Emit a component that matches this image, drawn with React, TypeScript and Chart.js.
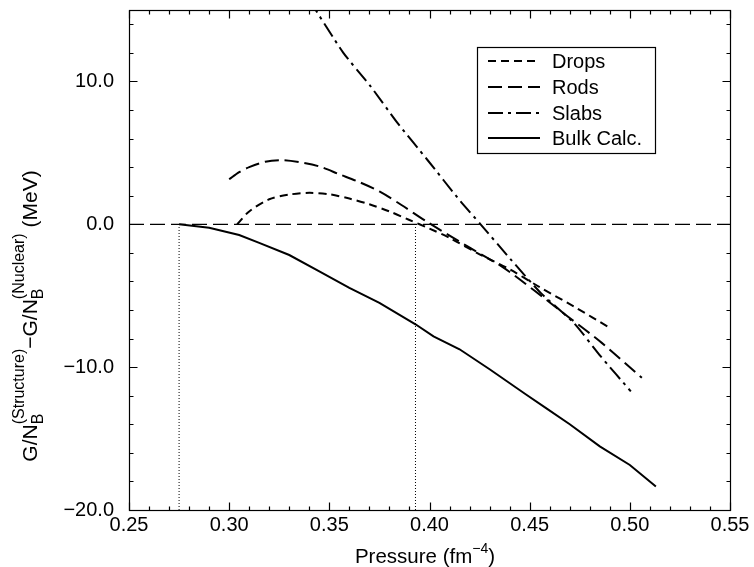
import React, { useEffect, useRef } from "react";
import { Chart, registerables } from "chart.js";

Chart.register(...registerables);

// ---- data ----
const dropsP = [0.304, 0.310, 0.320, 0.330, 0.340, 0.350, 0.360, 0.370, 0.380, 0.390, 0.400, 0.410, 0.425, 0.440, 0.455, 0.472, 0.490];
const dropsG = [0.0, 0.9, 1.75, 2.08, 2.2, 2.1, 1.8, 1.4, 0.9, 0.3, -0.3, -0.95, -2.1, -3.15, -4.4, -5.75, -7.25];

const rodsP = [0.300, 0.305, 0.310, 0.318, 0.326, 0.335, 0.345, 0.355, 0.365, 0.375, 0.386, 0.399, 0.419, 0.436, 0.452, 0.469, 0.486, 0.506];
const rodsG = [3.15, 3.65, 4.0, 4.38, 4.49, 4.35, 4.05, 3.5, 2.95, 2.3, 1.35, 0.15, -1.55, -2.95, -4.6, -6.45, -8.3, -10.75];

const slabsP = [0.340, 0.357, 0.3705, 0.384, 0.399, 0.4155, 0.4255, 0.4405, 0.4555, 0.472, 0.4855, 0.5005];
const slabsG = [15.7, 12.0, 9.67, 7.1, 4.5, 1.6, 0.0, -2.45, -4.8, -6.9, -9.25, -11.7];

const bulkP = [0.275, 0.290, 0.305, 0.315, 0.330, 0.345, 0.360, 0.375, 0.393, 0.402, 0.415, 0.430, 0.448, 0.458, 0.470, 0.485, 0.500, 0.513];
const bulkG = [0.0, -0.25, -0.75, -1.3, -2.15, -3.3, -4.45, -5.5, -7.0, -7.85, -8.75, -10.15, -11.9, -12.85, -14.0, -15.55, -16.85, -18.35];

const thresholdP = [0.275, 0.393];

const xTickValues = [0.25, 0.30, 0.35, 0.40, 0.45, 0.50, 0.55];
const yTickValues = [-20, -10, 0, 10];
const legendLabels = ["Drops", "Rods", "Slabs", "Bulk Calc."];

const X_MIN = 0.25, X_MAX = 0.55, Y_MIN = -20, Y_MAX = 15;

const FONT = "'Liberation Sans', Arial, Helvetica, sans-serif";

const zip = (xs: number[], ys: number[]) => xs.map((x, i) => ({ x, y: ys[i] }));
const fmt = (v: number, d: number) => (v < 0 ? "\u2212" : "") + Math.abs(v).toFixed(d);

const DASH_DROPS = [8, 5];
const DASH_RODS = [14, 6];
const DASH_SLABS = [15, 5, 3, 5];

function drawFrame(chart: any) {
  const { ctx, chartArea } = chart;
  const { left, right, top, bottom } = chartArea;
  const xs = chart.scales.x;
  const ys = chart.scales.y;
  const L = left + 0.5, R = right + 0.5, T = top + 0.5, B = bottom + 0.5;
  ctx.save();
  ctx.strokeStyle = "#000";
  ctx.lineWidth = 1.2;
  ctx.setLineDash([]);
  ctx.strokeRect(L, T, R - L, B - T);
  ctx.beginPath();
  for (let i = 25; i <= 55; i++) {
    const v = i / 100;
    const px = Math.round(xs.getPixelForValue(v)) + 0.5;
    const len = i % 5 === 0 ? 8 : 4;
    ctx.moveTo(px, B);
    ctx.lineTo(px, B - len);
    ctx.moveTo(px, T);
    ctx.lineTo(px, T + len);
  }
  for (let v = -20; v <= 14; v += 2) {
    const py = Math.round(ys.getPixelForValue(v)) + 0.5;
    const len = v % 10 === 0 ? 8 : 4;
    ctx.moveTo(L, py);
    ctx.lineTo(L + len, py);
    ctx.moveTo(R, py);
    ctx.lineTo(R - len, py);
  }
  ctx.stroke();
  ctx.restore();
}

function drawLegend(chart: any) {
  const { ctx } = chart;
  const dashes = [DASH_DROPS, DASH_RODS, DASH_SLABS, []];
  const bx = 477, by = 47, bw = 178, bh = 106;
  ctx.save();
  ctx.fillStyle = "#fff";
  ctx.fillRect(bx, by, bw, bh);
  ctx.strokeStyle = "#000";
  ctx.lineWidth = 1.2;
  ctx.setLineDash([]);
  ctx.strokeRect(bx + 0.5, by + 0.5, bw, bh);
  const rows = [61, 87, 113, 138];
  legendLabels.forEach((lab, i) => {
    ctx.beginPath();
    ctx.setLineDash(dashes[i]);
    ctx.lineWidth = 2;
    ctx.moveTo(488, rows[i]);
    ctx.lineTo(540, rows[i]);
    ctx.stroke();
    ctx.setLineDash([]);
    ctx.fillStyle = "#000";
    ctx.font = `20px ${FONT}`;
    ctx.textAlign = "left";
    ctx.textBaseline = "middle";
    ctx.fillText(lab, 552, rows[i] + 1);
  });
  ctx.restore();
}

function drawTitles(chart: any) {
  const { ctx } = chart;
  ctx.save();
  ctx.fillStyle = "#000";
  ctx.textBaseline = "alphabetic";
  ctx.textAlign = "left";

  // ---- y title (rotated) ----
  const MAIN = 21, SCR = 16;
  type Seg = { t: string; f: number; dy: number; stackWith?: boolean };
  const segs: Seg[] = [
    { t: "G/N", f: MAIN, dy: 0 },
    { t: "B", f: SCR, dy: 6 },
    { t: "(Structure)", f: SCR, dy: -13, stackWith: true },
    { t: "\u2212G/N", f: MAIN, dy: 0 },
    { t: "B", f: SCR, dy: 6 },
    { t: "(Nuclear)", f: SCR, dy: -13, stackWith: true },
    { t: " (MeV)", f: MAIN, dy: 0 },
  ];
  const pos: { x: number; w: number }[] = [];
  let cur = 0;
  let lastStart = 0;
  let lastW = 0;
  segs.forEach((s) => {
    ctx.font = `${s.f}px ${FONT}`;
    const w = ctx.measureText(s.t).width;
    if (s.stackWith) {
      pos.push({ x: lastStart, w });
      cur = lastStart + Math.max(lastW, w);
    } else {
      pos.push({ x: cur, w });
      lastStart = cur;
      lastW = w;
      cur += w;
    }
  });
  const total = cur;
  const centerY = 316;
  const baseX = 37;
  ctx.translate(baseX, centerY + total / 2);
  ctx.rotate(-Math.PI / 2);
  segs.forEach((s, i) => {
    ctx.font = `${s.f}px ${FONT}`;
    ctx.fillText(s.t, pos[i].x, s.dy);
  });
  ctx.setTransform(1, 0, 0, 1, 0, 0);

  // ---- x title ----
  const xMainF = 20.5, xSupF = 14;
  const a = "Pressure (fm", b = "\u22124", c = ")";
  ctx.font = `${xMainF}px ${FONT}`;
  const wa = ctx.measureText(a).width;
  const wc = ctx.measureText(c).width;
  ctx.font = `${xSupF}px ${FONT}`;
  const wb = ctx.measureText(b).width;
  const xt = wa + wb + wc;
  const sx = 425 - xt / 2;
  const baseY = 563;
  ctx.font = `${xMainF}px ${FONT}`;
  ctx.fillText(a, sx, baseY);
  ctx.font = `${xSupF}px ${FONT}`;
  ctx.fillText(b, sx + wa, baseY - 10);
  ctx.font = `${xMainF}px ${FONT}`;
  ctx.fillText(c, sx + wa + wb, baseY);
  ctx.restore();
}

const decorPlugin = {
  id: "decor",
  afterDraw(chart: any) {
    drawFrame(chart);
    drawLegend(chart);
    drawTitles(chart);
  },
};

export default function App() {
  const ref = useRef<HTMLCanvasElement | null>(null);

  useEffect(() => {
    if (!ref.current) return;
    const line = (data: any[], dash: number[], width: number, extra: any = {}) => ({
      data,
      borderColor: "#000",
      backgroundColor: "#000",
      borderWidth: width,
      borderDash: dash,
      pointRadius: 0,
      fill: false,
      clip: 0,
      ...extra,
    });
    const chart = new Chart(ref.current, {
      type: "line",
      data: {
        datasets: [
          line([{ x: X_MIN, y: 0 }, { x: X_MAX, y: 0 }], [15, 6], 1.2, { label: "zero" }),
          ...thresholdP.map((p) => line([{ x: p, y: Y_MIN }, { x: p, y: 0 }], [1, 2], 1, { label: "t" + p })),
          line(zip(dropsP, dropsG), DASH_DROPS, 2, { label: legendLabels[0], tension: 0.3 }),
          line(zip(rodsP, rodsG), DASH_RODS, 2, { label: legendLabels[1], tension: 0.3 }),
          line(zip(slabsP, slabsG), DASH_SLABS, 2, { label: legendLabels[2], tension: 0.2 }),
          line(zip(bulkP, bulkG), [], 2, { label: legendLabels[3], tension: 0 }),
        ],
      },
      options: {
        responsive: false,
        animation: false,
        devicePixelRatio: 1,
        parsing: false as any,
        layout: { padding: { top: 10, right: 24, left: 0, bottom: 0 } },
        plugins: { legend: { display: false }, tooltip: { enabled: false }, title: { display: false } },
        scales: {
          x: {
            type: "linear",
            min: X_MIN,
            max: X_MAX,
            position: "bottom",
            afterBuildTicks: (s: any) => {
              s.ticks = xTickValues.map((v) => ({ value: v }));
            },
            afterFit: (s: any) => {
              s.height = 57;
              s.paddingLeft = 0;
              s.paddingRight = 0;
              s.paddingTop = 0;
              s.paddingBottom = 0;
            },
            grid: { display: false, drawTicks: false },
            border: { display: false },
            ticks: {
              color: "#000",
              font: { family: FONT, size: 20 },
              padding: 3,
              maxRotation: 0,
              autoSkip: false,
              callback: (v: any) => fmt(Number(v), 2),
            },
          },
          y: {
            type: "linear",
            min: Y_MIN,
            max: Y_MAX,
            afterBuildTicks: (s: any) => {
              s.ticks = yTickValues.map((v) => ({ value: v }));
            },
            afterFit: (s: any) => {
              s.width = 129;
              s.paddingLeft = 0;
              s.paddingRight = 0;
              s.paddingTop = 0;
              s.paddingBottom = 0;
            },
            grid: { display: false, drawTicks: false },
            border: { display: false },
            ticks: {
              color: "#000",
              font: { family: FONT, size: 20 },
              padding: 15,
              autoSkip: false,
              callback: (v: any) => fmt(Number(v), 1),
            },
          },
        },
      },
      plugins: [decorPlugin],
    });
    return () => chart.destroy();
  }, []);

  return (
    <div style={{ position: "fixed", left: 0, top: 0, width: 754, height: 567, background: "#fff" }}>
      <canvas ref={ref} width={754} height={567} style={{ display: "block", width: 754, height: 567 }} />
    </div>
  );
}
